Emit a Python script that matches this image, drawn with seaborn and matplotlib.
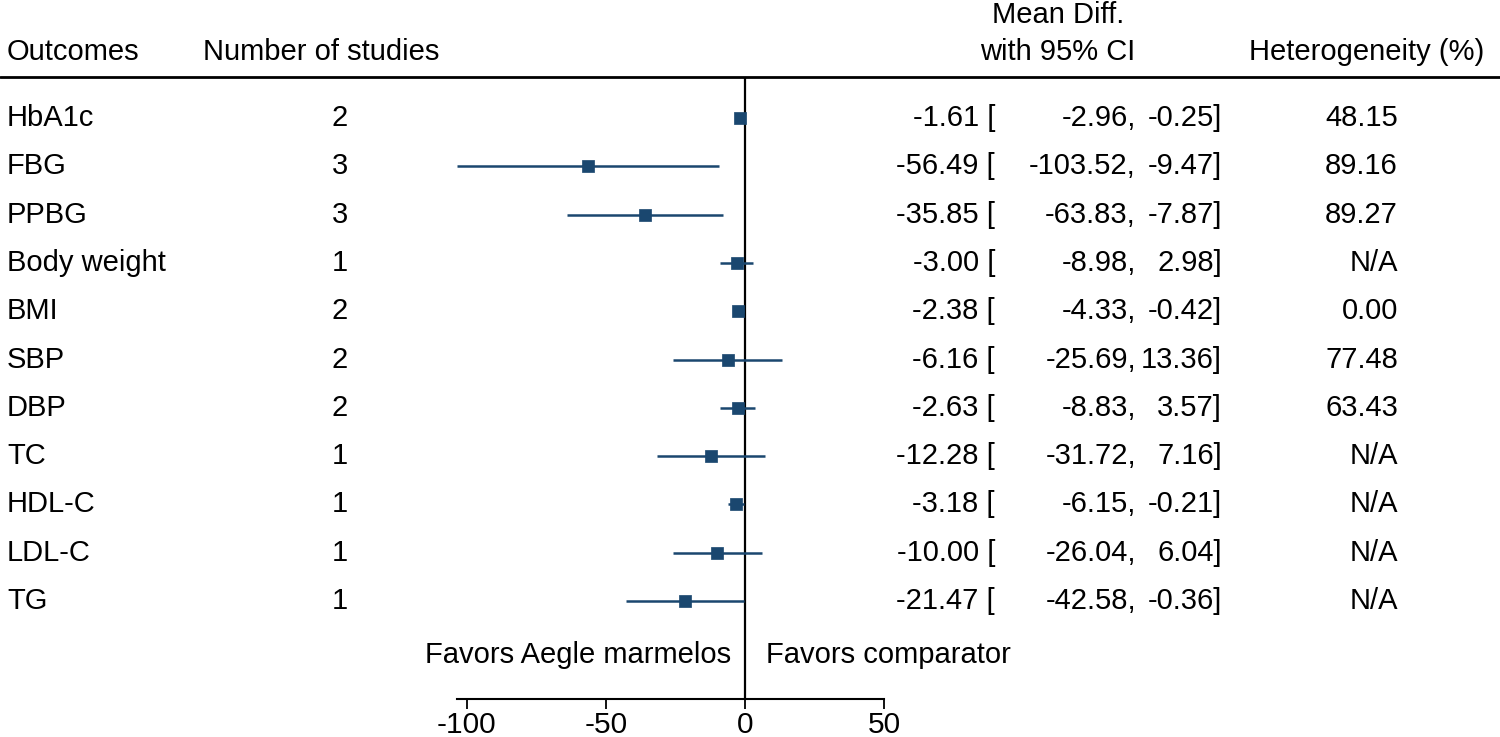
"""Forest plot: Aegle marmelos outcomes, mean difference with 95% CI."""

import matplotlib.pyplot as plt
import numpy as np
import pandas as pd
import seaborn as sns
from matplotlib.transforms import blended_transform_factory

outcomes = ["HbA1c", "FBG", "PPBG", "Body weight", "BMI", "SBP", "DBP",
            "TC", "HDL-C", "LDL-C", "TG"]
n_studies = [2, 3, 3, 1, 2, 2, 2, 1, 1, 1, 1]
mean_diff = [-1.61, -56.49, -35.85, -3.00, -2.38, -6.16, -2.63,
             -12.28, -3.18, -10.00, -21.47]
ci_low = [-2.96, -103.52, -63.83, -8.98, -4.33, -25.69, -8.83,
          -31.72, -6.15, -26.04, -42.58]
ci_high = [-0.25, -9.47, -7.87, 2.98, -0.42, 13.36, 3.57,
           7.16, -0.21, 6.04, -0.36]
heterogeneity = ["48.15", "89.16", "89.27", "N/A", "0.00", "77.48", "63.43",
                 "N/A", "N/A", "N/A", "N/A"]
x_ticks = [-100, -50, 0, 50]

df = pd.DataFrame({
    "outcome": outcomes,
    "row": np.arange(len(outcomes)),
    "md": mean_diff,
    "lo": ci_low,
    "hi": ci_high,
})

W, H = 1500, 737
NAVY = "#1a476f"
FS = 21

sns.set_style("white")
plt.rcParams["font.family"] = ["Liberation Sans", "DejaVu Sans"]
plt.rcParams["text.color"] = "black"

# pixel layout of the reference
row0_px, row_step_px = 118, 48.3
axis_px, header_px = 699, 77


def y_px(px):
    return (px - row0_px) / row_step_px


fig = plt.figure(figsize=(W / 100, H / 100), dpi=100)
ax = fig.add_axes([457 / W, (H - axis_px) / H, 427 / W, (axis_px - header_px) / H])

ax.hlines(df["row"], df["lo"], df["hi"], color=NAVY, lw=1.8, zorder=2)
sns.scatterplot(data=df, x="md", y="row", marker="s", s=64, color=NAVY,
                edgecolor=NAVY, linewidth=0.5, ax=ax, zorder=3, legend=False)
ax.axvline(0, color="black", lw=1.6, zorder=1)

ax.set_xlim(min(ci_low), 50)
ax.set_ylim(y_px(axis_px), y_px(header_px))
ax.set_xticks(x_ticks)
ax.set_xticklabels([str(t) for t in x_ticks], fontsize=21.5)
ax.set_yticks([])
ax.set_xlabel("")
ax.set_ylabel("")
for side in ["top", "right", "left"]:
    ax.spines[side].set_visible(False)
ax.spines["bottom"].set_linewidth(1.5)
ax.spines["bottom"].set_color("black")
ax.tick_params(axis="x", direction="out", length=7, width=1.3, pad=1.5,
               colors="black", labelcolor="black", bottom=True)

tr = blended_transform_factory(fig.transFigure, ax.transData)

# header rule across the whole figure
ax.plot([0, 1], [y_px(header_px)] * 2, color="black", lw=2,
        transform=tr, clip_on=False)

# headers
hy = y_px(52)
ax.text(7 / W, hy, "Outcomes", transform=tr, fontsize=FS, ha="left", va="center")
ax.text(203 / W, hy, "Number of studies", transform=tr, fontsize=FS, ha="left", va="center")
ax.text(1058 / W, y_px(15), "Mean Diff.", transform=tr, fontsize=FS, ha="center", va="center")
ax.text(1058 / W, hy, "with 95% CI", transform=tr, fontsize=FS, ha="center", va="center")
ax.text(1484 / W, hy, "Heterogeneity (%)", transform=tr, fontsize=FS, ha="right", va="center")

# table columns
for i, row in df.iterrows():
    y = row["row"]
    ax.text(7 / W, y, row["outcome"], transform=tr, fontsize=FS, ha="left", va="center")
    ax.text(340 / W, y, str(n_studies[i]), transform=tr, fontsize=FS, ha="center", va="center")
    ax.text(995 / W, y, f"{row['md']:.2f} [", transform=tr, fontsize=FS, ha="right", va="center")
    ax.text(1136 / W, y, f"{row['lo']:.2f},", transform=tr, fontsize=FS, ha="right", va="center")
    ax.text(1222 / W, y, f"{row['hi']:.2f}]", transform=tr, fontsize=FS, ha="right", va="center")
    ax.text(1398 / W, y, heterogeneity[i], transform=tr, fontsize=FS, ha="right", va="center")

fy = y_px(655)
ax.text(-5, fy, "Favors Aegle marmelos", fontsize=FS, ha="right", va="center")
ax.text(7.5, fy, "Favors comparator", fontsize=FS, ha="left", va="center")

fig.savefig("out.png", dpi=100)
